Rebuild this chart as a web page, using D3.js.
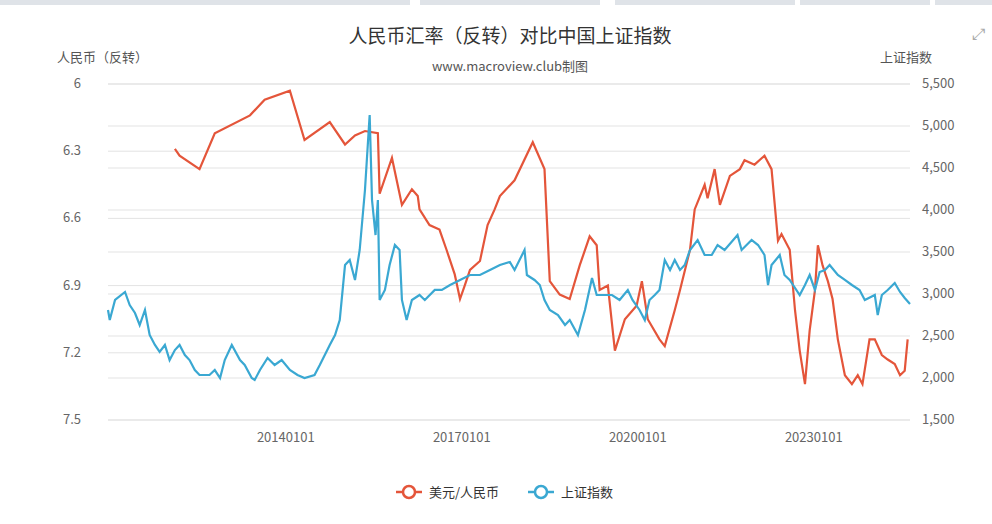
<!DOCTYPE html>
<html><head><meta charset="utf-8">
<script src="https://cdn.jsdelivr.net/npm/d3@7"></script>
<style>body{margin:0;background:#fff;font-family:"Noto Sans CJK SC","Noto Sans",sans-serif}</style>
</head><body><div id="chart"></div>
<script>
// USD/CNY, decimal years
const cnyYears = [2012.11,2012.19,2012.53,2012.79,2013.39,2013.64,2014.07,2014.32,2014.75,2015.01,2015.18,2015.35,2015.57,2015.6,2015.81,2015.98,2016.15,2016.25,2016.28,2016.45,2016.62,2016.74,2016.88,2016.97,2017.05,2017.14,2017.31,2017.44,2017.56,2017.65,2017.9,2018.21,2018.41,2018.5,2018.67,2018.84,2019.01,2019.18,2019.3,2019.35,2019.49,2019.61,2019.78,2019.98,2020.07,2020.17,2020.37,2020.46,2020.63,2020.72,2020.89,2020.97,2021.14,2021.19,2021.31,2021.4,2021.57,2021.74,2021.82,2021.99,2022.16,2022.28,2022.39,2022.45,2022.59,2022.68,2022.76,2022.85,2022.93,2023.02,2023.07,2023.15,2023.24,2023.32,2023.41,2023.53,2023.65,2023.75,2023.83,2023.95,2024.04,2024.16,2024.26,2024.38,2024.47,2024.55,2024.6]
const cnyValues = [6.29,6.32,6.38,6.22,6.14,6.07,6.03,6.25,6.17,6.27,6.23,6.21,6.22,6.49,6.33,6.54,6.47,6.5,6.56,6.63,6.65,6.74,6.85,6.96,6.9,6.83,6.79,6.63,6.56,6.5,6.43,6.26,6.38,6.88,6.94,6.96,6.81,6.68,6.72,6.92,6.9,7.19,7.05,6.99,6.88,7.05,7.14,7.17,7.01,6.92,6.74,6.56,6.45,6.51,6.38,6.54,6.41,6.38,6.34,6.36,6.32,6.38,6.7,6.67,6.74,7.01,7.19,7.34,7.1,6.92,6.72,6.81,6.88,6.96,7.14,7.3,7.34,7.3,7.34,7.14,7.14,7.21,7.23,7.25,7.3,7.28,7.14]
// Shanghai Composite
const shYears = [2010.97,2011.0,2011.09,2011.26,2011.34,2011.43,2011.51,2011.6,2011.68,2011.77,2011.85,2011.94,2012.02,2012.11,2012.19,2012.28,2012.36,2012.45,2012.53,2012.7,2012.79,2012.88,2012.96,2013.08,2013.22,2013.3,2013.42,2013.47,2013.56,2013.69,2013.81,2013.93,2014.07,2014.2,2014.32,2014.49,2014.58,2014.75,2014.84,2014.92,2015.01,2015.09,2015.18,2015.26,2015.35,2015.43,2015.47,2015.53,2015.57,2015.6,2015.69,2015.77,2015.86,2015.94,2015.98,2016.06,2016.15,2016.28,2016.37,2016.54,2016.66,2016.8,2016.97,2017.14,2017.31,2017.48,2017.65,2017.82,2017.9,2018.07,2018.11,2018.24,2018.33,2018.41,2018.5,2018.64,2018.76,2018.84,2018.98,2019.1,2019.22,2019.3,2019.44,2019.56,2019.69,2019.83,2019.91,2020.03,2020.12,2020.2,2020.29,2020.37,2020.46,2020.55,2020.63,2020.72,2020.8,2020.89,2021.02,2021.14,2021.26,2021.36,2021.48,2021.7,2021.77,2021.94,2022.05,2022.16,2022.22,2022.28,2022.42,2022.5,2022.59,2022.76,2022.85,2022.93,2023.02,2023.1,2023.19,2023.27,2023.41,2023.53,2023.65,2023.78,2023.87,2024.04,2024.09,2024.16,2024.26,2024.38,2024.47,2024.55,2024.64]
const shValues = [2810,2690,2929,3024,2869,2774,2631,2810,2512,2393,2310,2393,2214,2333,2393,2274,2214,2095,2036,2036,2095,2000,2214,2393,2214,2155,2000,1976,2095,2238,2155,2214,2095,2036,2000,2036,2155,2393,2512,2690,3345,3405,3167,3524,4238,5131,4119,3702,4119,2929,3048,3345,3583,3524,2929,2690,2929,2988,2929,3048,3048,3107,3167,3226,3226,3286,3345,3381,3286,3524,3226,3167,3107,2929,2810,2750,2631,2690,2512,2810,3190,2988,2988,2988,2929,3048,2929,2810,2690,2929,2988,3048,3405,3286,3405,3286,3345,3524,3643,3464,3464,3583,3524,3702,3524,3643,3583,3464,3107,3345,3464,3226,3167,2988,3107,3226,3048,3262,3286,3345,3226,3167,3107,3048,2929,2988,2750,2988,3048,3131,3024,2952,2881]
const xTicks = [2014, 2017, 2020, 2023]
const xTickLabels = ["20140101", "20170101", "20200101", "20230101"]
const leftTicks = [6, 6.3, 6.6, 6.9, 7.2, 7.5]
const rightTicks = [1500, 2000, 2500, 3000, 3500, 4000, 4500, 5000, 5500]

const width = 992, height = 524
const red = "#e4553a", blue = "#3aa8d2"
const x = d3.scaleLinear().domain([2010.97, 2024.64]).range([108, 910])
const yL = d3.scaleLinear().domain([6, 7.5]).range([84, 420])
const yR = d3.scaleLinear().domain([5500, 1500]).range([84, 420])

const svg = d3.select("#chart").append("svg").attr("width", width).attr("height", height)
svg.append("rect").attr("width", width).attr("height", height).attr("fill", "#fff")
// top tab strip
svg.selectAll("rect.tab").data([[0, 5, 410], [420, 5, 180], [615, 5, 180], [800, 5, 130], [935, 5, 57]])
  .enter().append("rect").attr("x", d => d[0]).attr("y", 0).attr("width", d => d[2]).attr("height", d => d[1])
  .attr("fill", "#dfe3e8")

const g = svg.append("g")
g.selectAll("line.gr").data(rightTicks).enter().append("line")
  .attr("x1", 108).attr("x2", 910).attr("y1", d => yR(d)).attr("y2", d => yR(d))
  .attr("stroke", "#e3e3e3")
g.selectAll("line.gl").data(leftTicks).enter().append("line")
  .attr("x1", 108).attr("x2", 910).attr("y1", d => yL(d)).attr("y2", d => yL(d))
  .attr("stroke", "#e3e3e3")

const fmtR = d3.format(",")
g.selectAll("text.l").data(leftTicks).enter().append("text")
  .attr("x", 81).attr("y", d => yL(d) + 4).attr("text-anchor", "end")
  .attr("font-size", 13).attr("fill", "#666").text(d => d)
g.selectAll("text.r").data(rightTicks).enter().append("text")
  .attr("x", 922).attr("y", d => yR(d) + 4)
  .attr("font-size", 13).attr("fill", "#666").text(d => fmtR(d))
g.selectAll("text.x").data(xTicks).enter().append("text")
  .attr("x", d => x(d)).attr("y", 442).attr("text-anchor", "middle")
  .attr("font-size", 13).attr("fill", "#666").text((d, i) => xTickLabels[i])

const cnyLine = d3.line().x((d, i) => x(cnyYears[i])).y(d => yL(d))
const shLine = d3.line().x((d, i) => x(shYears[i])).y(d => yR(d))
g.append("path").attr("d", cnyLine(cnyValues)).attr("fill", "none").attr("stroke", red).attr("stroke-width", 2.2)
g.append("path").attr("d", shLine(shValues)).attr("fill", "none").attr("stroke", blue).attr("stroke-width", 2.2)

svg.append("text").attr("x", 510).attr("y", 43).attr("text-anchor", "middle")
  .attr("font-size", 19).attr("fill", "#333").text("人民币汇率（反转）对比中国上证指数")
svg.append("text").attr("x", 510).attr("y", 71).attr("text-anchor", "middle")
  .attr("font-size", 13).attr("fill", "#555").text("www.macroview.club制图")
svg.append("text").attr("x", 57).attr("y", 62).attr("font-size", 13).attr("fill", "#555").text("人民币（反转）")
svg.append("text").attr("x", 880).attr("y", 62).attr("font-size", 13).attr("fill", "#555").text("上证指数")

const legend = [{ name: "美元/人民币", color: red, x: 396 }, { name: "上证指数", color: blue, x: 528 }]
const lg = svg.selectAll("g.lg").data(legend).enter().append("g").attr("transform", d => `translate(${d.x},492)`)
lg.append("line").attr("x1", 0).attr("x2", 26).attr("stroke", d => d.color).attr("stroke-width", 2.5)
lg.append("circle").attr("cx", 13).attr("r", 6).attr("fill", "#fff").attr("stroke", d => d.color).attr("stroke-width", 2.5)
lg.append("text").attr("x", 33).attr("y", 5).attr("font-size", 13).attr("fill", "#333").text(d => d.name)

// expand icon top-right
svg.append("text").attr("x", 978).attr("y", 40).attr("text-anchor", "middle").attr("font-size", 16).attr("fill", "#aaa").text("⤢")
</script></body></html>
